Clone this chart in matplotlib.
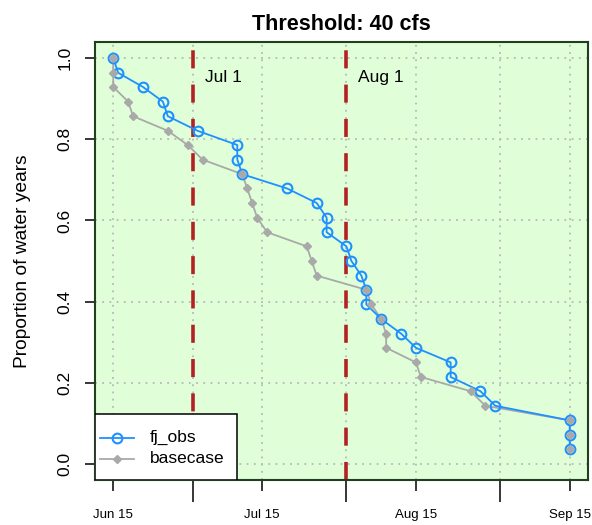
import datetime as dt

import matplotlib
matplotlib.use("Agg")
import matplotlib.dates as mdates
from matplotlib import pyplot as plt
from matplotlib.lines import Line2D
from matplotlib.patches import Rectangle

plt.rcParams["font.family"] = ["Liberation Sans", "DejaVu Sans"]

# proportion of water years (y), shared by both series
proportion = [1.0, 0.964, 0.929, 0.893, 0.857, 0.821, 0.786, 0.75, 0.714,
              0.679, 0.643, 0.607, 0.571, 0.536, 0.5, 0.464, 0.429, 0.393,
              0.357, 0.321, 0.286, 0.25, 0.214, 0.179, 0.143, 0.107, 0.071,
              0.036]

fj_obs_dates = ["06-15", "06-16", "06-21", "06-25", "06-26", "07-02",
                "07-10", "07-10", "07-11", "07-20", "07-26", "07-28",
                "07-28", "08-01", "08-02", "08-04", "08-05", "08-05",
                "08-08", "08-12", "08-15", "08-22", "08-22", "08-28",
                "08-31", "09-15", "09-15", "09-15"]

basecase_dates = ["06-15", "06-15", "06-15", "06-18", "06-19", "06-26",
                  "06-30", "07-03", "07-11", "07-12", "07-13", "07-14",
                  "07-16", "07-24", "07-25", "07-26", "08-05", "08-06",
                  "08-08", "08-09", "08-09", "08-15", "08-16", "08-26",
                  "08-29", "09-15", "09-15", "09-15"]

series_names = ["fj_obs", "basecase"]
marker_dates = ["07-01", "08-01"]
marker_labels = ["Jul 1", "Aug 1"]
title = "Threshold: 40 cfs"
year = 2001


def to_date(s):
    m, d = s.split("-")
    return dt.datetime(year, int(m), int(d))


fj_x = [to_date(s) for s in fj_obs_dates]
base_x = [to_date(s) for s in basecase_dates]

blue = "#1E90FF"
gray = "#A9A9A9"
red = "#B22222"

fig = plt.figure(figsize=(5.92, 5.25), dpi=100)
ax = fig.add_axes([95 / 592, 1 - 480 / 525, 493 / 592, 438 / 525])
ax.set_facecolor("#E0FFD8")

start = to_date("06-15")
end = to_date("09-15")
pad = dt.timedelta(days=3.68)
ax.set_xlim(start - pad, end + pad)
ax.set_ylim(-0.04, 1.04)

major = [to_date(s) for s in ["06-15", "07-15", "08-15", "09-15"]]
minor = [to_date(s) for s in ["07-01", "08-01", "09-01"]]
ax.set_xticks(major)
ax.set_xticks(minor, minor=True)
ax.xaxis.set_major_formatter(mdates.DateFormatter("%b %d"))
ax.set_yticks([0, 0.2, 0.4, 0.6, 0.8, 1.0])
ax.set_yticklabels(["0.0", "0.2", "0.4", "0.6", "0.8", "1.0"],
                   rotation=90, va="center")

# dotted grid
ax.grid(True, which="both", axis="x", linestyle=(0, (1, 3)),
        color="#B8B8B8", linewidth=1.3)
ax.grid(True, which="major", axis="y", linestyle=(0, (1, 3)),
        color="#B8B8B8", linewidth=1.3)
ax.set_axisbelow(True)

ax.tick_params(axis="x", which="major", length=8, width=1.1,
               labelsize=9.5, pad=13)
ax.tick_params(axis="x", which="minor", length=16, width=1.1)
ax.tick_params(axis="y", length=7, width=1.1, labelsize=12.5, pad=9)

for sp in ax.spines.values():
    sp.set_color("#1f3f1f")
    sp.set_linewidth(1.5)

# month markers
for s, lab in zip(marker_dates, marker_labels):
    d = to_date(s)
    ax.axvline(d, color=red, linewidth=2.6, linestyle=(0, (5, 4.5)),
               zorder=1.5)
    ax.text(d + dt.timedelta(days=2.4), 0.952, lab, fontsize=12.5,
            ha="left", va="center")

# series
ax.plot(base_x, proportion, color=gray, linewidth=1.3, zorder=2)
ax.plot(fj_x, proportion, color=blue, linewidth=1.3, marker="o",
        markersize=7, markerfacecolor="none", markeredgewidth=1.5,
        zorder=3)
ax.plot(base_x, proportion, color="none", marker="D", markersize=3.6,
        markerfacecolor=gray, markeredgecolor=gray, zorder=4)

# R-style legend box, drawn by hand in axes coordinates
tr = ax.transAxes
ax.add_patch(Rectangle((0, 0), 0.288, 0.1507, transform=tr,
                       facecolor="white", edgecolor="black",
                       linewidth=1.1, zorder=10))
marker_styles = [
    dict(marker="o", markersize=7, markerfacecolor="none",
         markeredgecolor=blue, markeredgewidth=1.5),
    dict(marker="D", markersize=3.6, markerfacecolor=gray,
         markeredgecolor=gray),
]
for row_y, name, col, ms in zip([0.0966, 0.048], series_names,
                                [blue, gray], marker_styles):
    ax.add_line(Line2D([0.0101, 0.0791], [row_y, row_y], transform=tr,
                       color=col, linewidth=1.3, zorder=11))
    ax.add_line(Line2D([0.0446], [row_y], transform=tr, zorder=12,
                       linestyle="none", **ms))
    ax.text(0.1116, row_y, name, transform=tr, fontsize=12.5,
            ha="left", va="center", zorder=12)

ax.set_ylabel("Proportion of water years", fontsize=13.8, labelpad=19)
ax.set_title(title, fontsize=15.5, fontweight="bold", pad=9)

fig.savefig("out.png", dpi=100)
